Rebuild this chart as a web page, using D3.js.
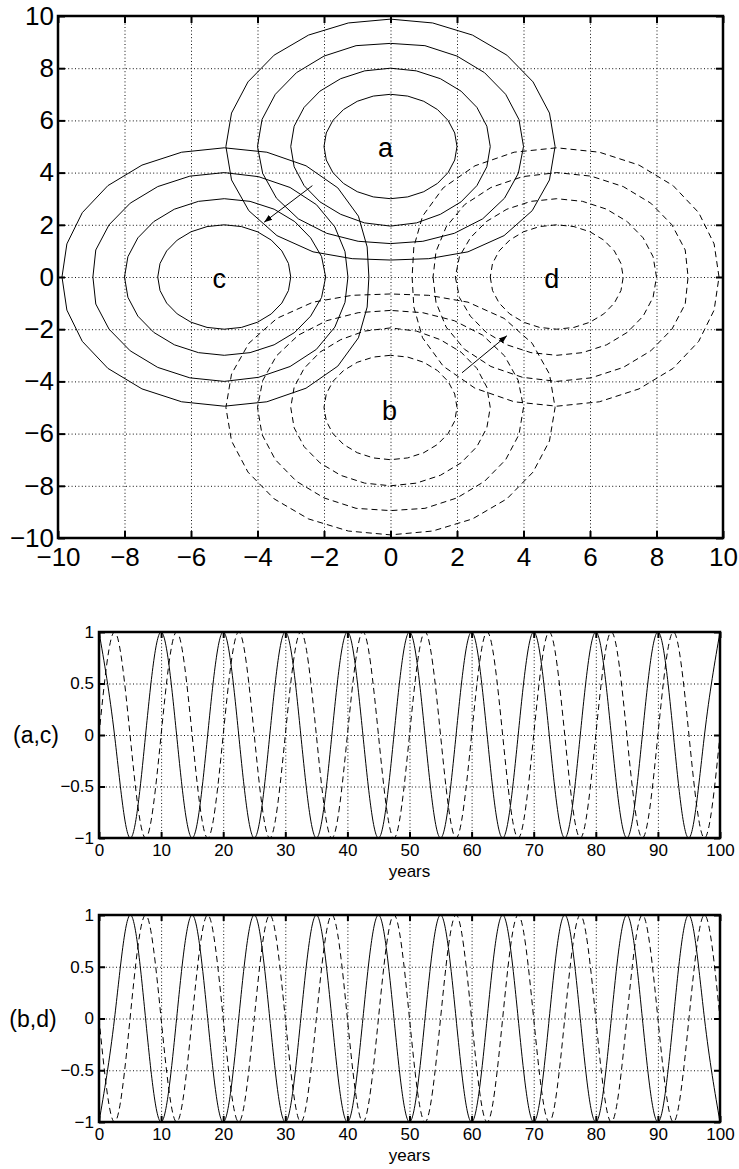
<!DOCTYPE html>
<meta charset="utf-8">
<head>
  <title>Contours and time series</title>
</head>

<style>
body {
  margin: 0;
  background: #fff;
}
text {
  font-family: "Liberation Sans", Arial, Helvetica, sans-serif;
  fill: #000;
}
.grid line {
  stroke: #111;
  stroke-width: 1;
  stroke-dasharray: 1,2.4;
}
.grid path, .axis path {
  display: none;
}
.axis line {
  stroke: #000;
  stroke-width: 2;
}
.box {
  fill: none;
  stroke: #000;
  stroke-width: 2.5;
}
.trace {
  fill: none;
  stroke: #000;
  stroke-width: 1;
}
.dashed {
  stroke-dasharray: 6,4;
}
</style>

<body>
  <svg width="739" height="1169"></svg>

  <script src="https://cdnjs.cloudflare.com/ajax/libs/d3/7.8.5/d3.min.js"></script>
  <script>
// ---- map panel data ----
var blobNames = ['a', 'b', 'c', 'd']
var blobX = [0, 0, -5, 5]
var blobY = [5, -5, 0, 0]
var blobDashed = [false, true, false, true]
// where each letter sits
var labelX = [-0.15, -0.03, -5.15, 4.85]
var labelY = [4.96, -5.13, -0.07, -0.07]
// direction (degrees) from each centre towards the origin
var blobFacing = [-90, 90, 0, 180]
// contour radius read at angles measured from that direction
var contourAngles = [0, 15, 30, 45, 60, 75, 90, 105, 120, 135, 150, 165, 180]
var contourRadii = [
  [2, 2, 2, 2, 2, 2, 2, 2, 2, 2, 2, 2, 2],
  [3.05, 3.03, 3, 3, 3, 3, 3, 3, 3, 3, 3, 3, 3],
  [3.72, 3.76, 3.84, 3.92, 3.96, 3.98, 4, 4, 4, 4, 4, 4, 3.95],
  [4.35, 4.45, 4.66, 4.83, 4.92, 4.95, 4.95, 4.95, 4.95, 4.95, 4.93, 4.9, 4.88]
]
var arrowFrom = [[-2.35, 3.5], [2.15, -3.67]]
var arrowTo = [[-3.8, 2.1], [3.5, -2.25]]
var mapTicks = [-10, -8, -6, -4, -2, 0, 2, 4, 6, 8, 10]

// ---- time series data (key points read every quarter period) ----
var years = [0, 2.5, 5, 7.5, 10, 12.5, 15, 17.5, 20, 22.5, 25, 27.5, 30, 32.5, 35, 37.5,
  40, 42.5, 45, 47.5, 50, 52.5, 55, 57.5, 60, 62.5, 65, 67.5, 70, 72.5, 75, 77.5,
  80, 82.5, 85, 87.5, 90, 92.5, 95, 97.5, 100]
var seriesA = [1, 0, -1, 0, 1, 0, -1, 0, 1, 0, -1, 0, 1, 0, -1, 0, 1, 0, -1, 0, 1,
  0, -1, 0, 1, 0, -1, 0, 1, 0, -1, 0, 1, 0, -1, 0, 1, 0, -1, 0, 1]
var seriesC = [0, 1, 0, -1, 0, 1, 0, -1, 0, 1, 0, -1, 0, 1, 0, -1, 0, 1, 0, -1, 0,
  1, 0, -1, 0, 1, 0, -1, 0, 1, 0, -1, 0, 1, 0, -1, 0, 1, 0, -1, 0]
var seriesB = [-1, 0, 1, 0, -1, 0, 1, 0, -1, 0, 1, 0, -1, 0, 1, 0, -1, 0, 1, 0, -1,
  0, 1, 0, -1, 0, 1, 0, -1, 0, 1, 0, -1, 0, 1, 0, -1, 0, 1, 0, -1]
var seriesD = [0, -1, 0, 1, 0, -1, 0, 1, 0, -1, 0, 1, 0, -1, 0, 1, 0, -1, 0, 1, 0,
  -1, 0, 1, 0, -1, 0, 1, 0, -1, 0, 1, 0, -1, 0, 1, 0, -1, 0, 1, 0]
var yearTicks = [0, 10, 20, 30, 40, 50, 60, 70, 80, 90, 100]
var ampTicks = [-1, -0.5, 0, 0.5, 1]

var svg = d3.select('svg')
var fmt = d3.format('')

svg.append('defs').append('marker')
  .attr('id', 'head')
  .attr('markerUnits', 'userSpaceOnUse')
  .attr('markerWidth', 10).attr('markerHeight', 10)
  .attr('viewBox', '0 -5 10 10')
  .attr('refX', 8).attr('refY', 0)
  .attr('orient', 'auto')
  .append('path')
  .attr('d', 'M0,-3L8,0L0,3Z')
  .attr('fill', '#000')

// draws grid, inward ticks on all four sides, labels
function frame(g, x, y, xt, yt, o) {
  var x0 = x.range()[0], x1 = x.range()[1]
  var y0 = y.range()[0], y1 = y.range()[1]
  var w = x1 - x0, h = y0 - y1

  g.append('g').attr('class', 'grid')
    .attr('transform', 'translate(0,' + y0 + ')')
    .call(d3.axisBottom(x).tickValues(xt).tickSize(-h).tickFormat(''))
  g.append('g').attr('class', 'grid')
    .attr('transform', 'translate(' + x0 + ',0)')
    .call(d3.axisLeft(y).tickValues(yt).tickSize(-w).tickFormat(''))

  var bottom = g.append('g').attr('class', 'axis')
    .attr('transform', 'translate(0,' + y0 + ')')
    .call(d3.axisBottom(x).tickValues(xt).tickFormat(fmt).tickSize(-o.tick).tickPadding(o.padX))
  var left = g.append('g').attr('class', 'axis')
    .attr('transform', 'translate(' + x0 + ',0)')
    .call(d3.axisLeft(y).tickValues(yt).tickFormat(fmt).tickSize(-o.tick).tickPadding(o.padY))
  g.append('g').attr('class', 'axis')
    .attr('transform', 'translate(0,' + y1 + ')')
    .call(d3.axisTop(x).tickValues(xt).tickSize(-o.tick).tickFormat(''))
  g.append('g').attr('class', 'axis')
    .attr('transform', 'translate(' + x1 + ',0)')
    .call(d3.axisRight(y).tickValues(yt).tickSize(-o.tick).tickFormat(''))

  bottom.attr('font-family', null).attr('font-size', null)
  left.attr('font-family', null).attr('font-size', null)
  bottom.selectAll('text').attr('font-size', o.font).attr('fill', '#000')
  left.selectAll('text').attr('font-size', o.font).attr('fill', '#000')
}

function box(g, x, y) {
  g.append('rect').attr('class', 'box')
    .attr('x', x.range()[0]).attr('y', y.range()[1])
    .attr('width', x.range()[1] - x.range()[0])
    .attr('height', y.range()[0] - y.range()[1])
}

// ---- top: contour map ----
var xMap = d3.scaleLinear().domain([-10, 10]).range([58, 723])
var yMap = d3.scaleLinear().domain([-10, 10]).range([538, 16])

var mapG = svg.append('g')
frame(mapG, xMap, yMap, mapTicks, mapTicks, {tick: 7, padX: 10, padY: 4, font: 26})

svg.append('clipPath').attr('id', 'clipMap')
  .append('rect').attr('x', 58).attr('y', 16).attr('width', 665).attr('height', 522)

function polar(i, phi, r) {
  var t = (blobFacing[i] + phi) * Math.PI / 180
  return [blobX[i] + r * Math.cos(t), blobY[i] + r * Math.sin(t)]
}

var ring = d3.line()
  .x(function(d) { return xMap(d[0]) })
  .y(function(d) { return yMap(d[1]) })
  .curve(d3.curveLinearClosed)

var rings = mapG.append('g').attr('clip-path', 'url(#clipMap)')
blobNames.forEach(function(name, i) {
  contourRadii.forEach(function(radii) {
    var pts = []
    contourAngles.forEach(function(phi, k) { pts.push(polar(i, phi, radii[k])) })
    for (var k = contourAngles.length - 2; k > 0; k--) {
      pts.push(polar(i, -contourAngles[k], radii[k]))
    }
    rings.append('path')
      .attr('class', blobDashed[i] ? 'trace dashed' : 'trace')
      .attr('d', ring(pts))
  })
})

mapG.selectAll('.label')
  .data(blobNames)
  .enter()
  .append('text')
  .attr('class', 'label')
  .attr('x', function(d, i) { return xMap(labelX[i]) })
  .attr('y', function(d, i) { return yMap(labelY[i]) })
  .attr('dy', '0.35em')
  .attr('text-anchor', 'middle')
  .attr('font-size', 27)
  .text(function(d) { return d })

mapG.selectAll('.arrow')
  .data(arrowFrom)
  .enter()
  .append('line')
  .attr('class', 'arrow')
  .attr('stroke', '#000')
  .attr('stroke-width', 1)
  .attr('marker-end', 'url(#head)')
  .attr('x1', function(d) { return xMap(d[0]) })
  .attr('y1', function(d) { return yMap(d[1]) })
  .attr('x2', function(d, i) { return xMap(arrowTo[i][0]) })
  .attr('y2', function(d, i) { return yMap(arrowTo[i][1]) })

box(mapG, xMap, yMap)

// ---- bottom: two time series panels ----
var xT = d3.scaleLinear().domain([0, 100]).range([99, 720])
var panels = [
  {name: '(a,c)', y: d3.scaleLinear().domain([-1, 1]).range([838, 632]), solid: seriesA, dash: seriesC, labelX: 36},
  {name: '(b,d)', y: d3.scaleLinear().domain([-1, 1]).range([1122, 915]), solid: seriesB, dash: seriesD, labelX: 33}
]

panels.forEach(function(p, n) {
  var g = svg.append('g')
  var y = p.y
  frame(g, xT, y, yearTicks, ampTicks, {tick: 6, padX: 6, padY: 5, font: 17})

  svg.append('clipPath').attr('id', 'clipT' + n)
    .append('rect').attr('x', 99).attr('y', y.range()[1])
    .attr('width', 621).attr('height', y.range()[0] - y.range()[1])

  var line = d3.line()
    .x(function(d, i) { return xT(years[i]) })
    .y(function(d) { return y(d) })
    .curve(d3.curveNatural)

  var lines = g.append('g').attr('clip-path', 'url(#clipT' + n + ')')
  lines.append('path').attr('class', 'trace').attr('d', line(p.solid))
  lines.append('path').attr('class', 'trace dashed').attr('d', line(p.dash))

  box(g, xT, y)

  g.append('text')
    .attr('x', (xT.range()[0] + xT.range()[1]) / 2)
    .attr('y', y.range()[0] + 39)
    .attr('text-anchor', 'middle')
    .attr('font-size', 17)
    .text('years')

  g.append('text')
    .attr('x', p.labelX)
    .attr('y', y(0))
    .attr('dy', '0.35em')
    .attr('text-anchor', 'middle')
    .attr('font-size', 23)
    .text(p.name)
})
  </script>
</body>
</html>
